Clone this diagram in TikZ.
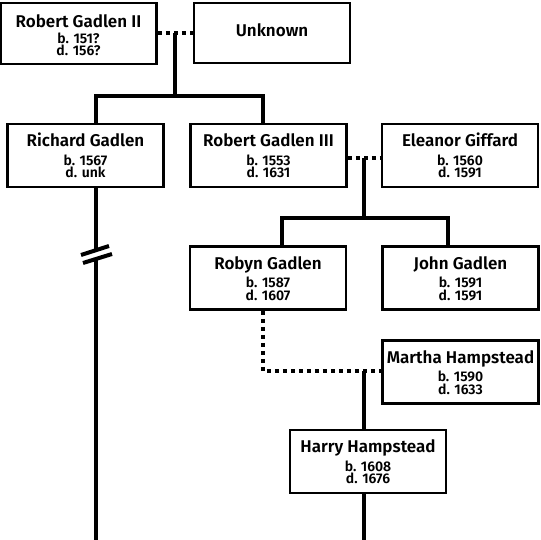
\documentclass[tikz,border=0pt]{standalone}
\usepackage{fontspec}
\setmainfont{Fira Sans SemiBold}
\begin{document}
\begin{tikzpicture}[x=1pt,y=-1pt,
  box/.style={draw, line width=2.5pt, minimum width=156pt, minimum height=63pt, inner sep=0pt},
  nm/.style={font=\fontsize{17}{17}\selectfont, inner sep=0pt, anchor=base},
  dt/.style={font=\fontsize{14}{12.5}\selectfont, inner sep=0pt, anchor=base, align=center},
  solidline/.style={line width=4pt},
  dotline/.style={line width=4pt, dash pattern=on 4pt off 4pt},
]
\newcommand\person[6]{%
  \node[box] (#1) at (#2,#3) {};
  \node[nm] (#1-n) at (#2,#3-9) {#4};
  \node[dt] (#1-bd) at (#2,#3+22) {#5\\#6};
}
\fill[white] (0,0) rectangle (540,540);
\useasboundingbox (0,0) rectangle (540,540);

% boxes
\node[box, minimum height=61pt] (rg2) at (78.5,33.5) {};
\node[nm] (rg2-n) at (78.5,27.5) {Robert Gadlen II};
\node[dt] (rg2-bd) at (78.5,56) {b. 151?\\d. 156?};
\node[box, minimum height=60pt] (unk) at (272,33) {};
\node[nm] (unk-n) at (272,37) {Unknown};

\person{rich}{85.5}{155.5}{Richard Gadlen}{b. 1567}{d. unk}
\person{rg3}{268.5}{155.5}{Robert Gadlen III}{b. 1553}{d. 1631}
\person{elea}{460}{155.5}{Eleanor Giffard}{b. 1560}{d. 1591}
\person{robyn}{268}{278}{Robyn Gadlen}{b. 1587}{d. 1607}
\person{john}{460.5}{278}{John Gadlen}{b. 1591}{d. 1591}
\person{martha}{460.5}{372}{Martha Hampstead}{b. 1590}{d. 1633}
\person{harry}{368}{461.5}{Harry Hampstead}{b. 1608}{d. 1676}

% coordinates
\coordinate (m1) at (175,33);
\coordinate (j1) at (175,96);
\coordinate (l1) at (96,96);
\coordinate (r1) at (263,96);
\coordinate (m2) at (364,158);
\coordinate (j2) at (364,218);
\coordinate (l2) at (282,218);
\coordinate (r2) at (448,218);
\coordinate (c3) at (263,371);
\coordinate (m3) at (364,371);
\coordinate (brk1) at (96,250);
\coordinate (brk2) at (96,259);
\coordinate (endL) at (96,541);
\coordinate (endR) at (364,541);

% couple 1
\draw[dotline] (rg2.east |- m1) -- (unk.west |- m1);
\draw[solidline] (m1) -- (j1);
\draw[solidline] ([xshift=-2pt]l1) -- ([xshift=2pt]r1);
\draw[solidline] (l1) -- (l1 |- rich.north);
\draw[solidline] (r1) -- (r1 |- rg3.north);

% couple 2
\draw[dotline] (rg3.east |- m2) -- (elea.west |- m2);
\draw[solidline] (m2) -- (j2);
\draw[solidline] ([xshift=-2pt]l2) -- ([xshift=2pt]r2);
\draw[solidline] (l2) -- (l2 |- robyn.north);
\draw[solidline] (r2) -- (r2 |- john.north);

% couple 3
\draw[dotline] (c3 |- robyn.south) -- (c3) -- (martha.west |- c3);
\draw[solidline] (m3) -- (m3 |- harry.north);
\draw[solidline] (m3 |- harry.south) -- (endR);

% Richard line with break
\draw[solidline] (rich.south -| brk1) -- (brk1);
\draw[solidline] (brk2) -- (endL);
\coordinate (b1a) at (81,255);
\coordinate (b1b) at (109,246);
\coordinate (b2a) at (83,263);
\coordinate (b2b) at (112,254);
\draw[solidline] (b1a) -- (b1b);
\draw[solidline] (b2a) -- (b2b);
\end{tikzpicture}
\end{document}
